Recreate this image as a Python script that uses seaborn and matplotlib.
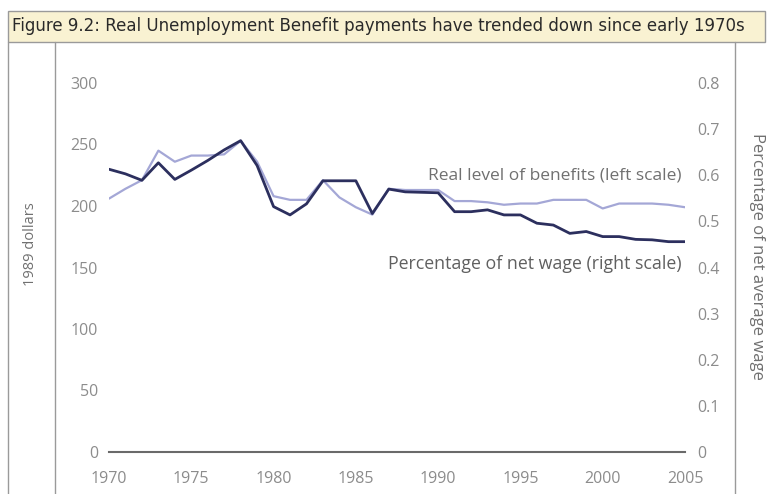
import pandas as pd
import numpy as np
import matplotlib
matplotlib.use("Agg")
import matplotlib.pyplot as plt
from matplotlib.lines import Line2D
from matplotlib.patches import Rectangle
import seaborn as sns

# Data
years = list(range(1970, 2006))
real_level = [206, 214, 221, 245, 236, 241, 241, 242, 253, 236,
              208, 205, 205, 221, 207, 199, 193, 214, 213, 213,
              213, 204, 204, 203, 201, 202, 202, 205, 205, 205,
              198, 202, 202, 202, 201, 199]
pct_net_wage = [0.613, 0.603, 0.589, 0.627, 0.591, 0.611, 0.632, 0.655, 0.675, 0.621,
                0.532, 0.514, 0.538, 0.588, 0.588, 0.588, 0.517, 0.570, 0.564, 0.563,
                0.562, 0.521, 0.521, 0.525, 0.514, 0.514, 0.496, 0.492, 0.474, 0.478,
                0.467, 0.467, 0.461, 0.460, 0.456, 0.456]

x_ticks = [1970, 1975, 1980, 1985, 1990, 1995, 2000, 2005]
left_ticks = [0, 50, 100, 150, 200, 250, 300]
right_ticks = [0, 0.1, 0.2, 0.3, 0.4, 0.5, 0.6, 0.7, 0.8]
right_tick_labels = ["0", "0.1", "0.2", "0.3", "0.4", "0.5", "0.6", "0.7", "0.8"]

title = "Figure 9.2: Real Unemployment Benefit payments have trended down since early 1970s"

df = pd.DataFrame({"year": years, "real": real_level, "pct": pct_net_wage})

sns.set_style("white")
plt.rcParams["font.family"] = ["Open Sans", "DejaVu Sans"]

light = "#a4a7d6"
dark = "#2c2f5e"
tick_col = "#8c8c8c"
frame_col = "#9a9a9a"

fig = plt.figure(figsize=(7.72, 4.94), dpi=100)
ax = fig.add_axes([109 / 772, 1 - 452 / 494, (685 - 109) / 772, (452 - 83) / 494])
ax2 = ax.twinx()

sns.lineplot(data=df, x="year", y="real", ax=ax, color=light, linewidth=1.6)
sns.lineplot(data=df, x="year", y="pct", ax=ax2, color=dark, linewidth=2.0)

ax.set_xlim(1970, 2005)
ax.set_ylim(0, 300)
ax2.set_ylim(0, 0.8)

ax.set_xticks(x_ticks)
ax.set_yticks(left_ticks)
ax2.set_yticks(right_ticks)
ax2.set_yticklabels(right_tick_labels)

for a in (ax, ax2):
    a.set_xlabel("")
    a.set_ylabel("")
    for s in a.spines.values():
        s.set_visible(False)
    a.tick_params(length=0, colors=tick_col, labelsize=11.5)
    a.patch.set_visible(False)

ax.spines["bottom"].set_visible(True)
ax.spines["bottom"].set_color("#6a6a6a")
ax.spines["bottom"].set_linewidth(1.5)
ax.tick_params(axis="x", pad=14)
ax.tick_params(axis="y", pad=8)
ax2.tick_params(axis="y", pad=9)

# series annotations
ax2.text(2004.8, 0.6, "Real level of benefits (left scale)", ha="right", va="center",
         color="#707070", fontsize=12.5)
ax2.text(2004.8, 0.408, "Percentage of net wage (right scale)", ha="right", va="center",
         color="#606060", fontsize=12.8)

# title box and frame lines
fig.patches.append(Rectangle((8 / 772, 1 - 42 / 494), 757 / 772, 31 / 494,
                             transform=fig.transFigure, facecolor="#f9f2d2",
                             edgecolor=frame_col, linewidth=1.0))
fig.text(12 / 772, 1 - 26 / 494, title, ha="left", va="center", fontsize=12.0,
         color="#2a2a2a", family=["Liberation Sans Narrow", "DejaVu Sans"])
for xp in (8, 55, 735):
    fig.add_artist(Line2D([xp / 772, xp / 772], [0, 1 - 42 / 494],
                          transform=fig.transFigure, color=frame_col, linewidth=1.0))

fig.text(31 / 772, 1 - 244 / 494, "1989 dollars", rotation=90, ha="center", va="center",
         color="#707070", fontsize=10.5)
fig.text(757 / 772, 1 - 256 / 494, "Percentage of net average wage", rotation=270,
         ha="center", va="center", color="#707070", fontsize=12)

fig.savefig("out.png", dpi=100)
